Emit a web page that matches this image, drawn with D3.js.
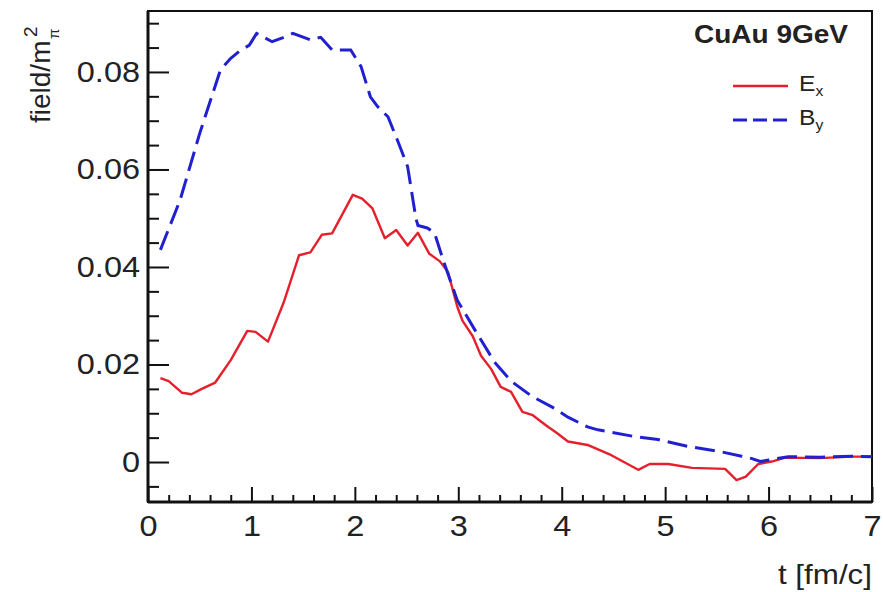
<!DOCTYPE html>
<html>
<head>
<meta charset="utf-8">
<script src="https://cdn.jsdelivr.net/npm/d3@7"></script>
<style>
  html, body { margin: 0; padding: 0; background: #fff; }
  svg { display: block; }
  text { font-family: "Liberation Sans", Arial, Helvetica, sans-serif; fill: #222; }
</style>
</head>
<body>
<svg id="chart" width="883" height="592"></svg>
<script>
// ---- data ----
const exT = [0.12,0.2,0.33,0.42,0.52,0.65,0.8,0.96,1.04,1.16,1.31,1.46,1.57,1.68,1.78,1.98,2.07,2.17,2.29,2.40,2.51,2.61,2.72,2.82,2.90,2.99,3.04,3.14,3.22,3.32,3.41,3.51,3.62,3.72,3.85,3.95,4.06,4.25,4.48,4.74,4.85,5.03,5.26,5.58,5.69,5.78,5.90,6.03,6.16,6.49,6.81,7.0];
const exV = [0.0172,0.0166,0.0142,0.0139,0.0150,0.0163,0.0209,0.0269,0.0267,0.0247,0.0326,0.0424,0.0430,0.0466,0.0469,0.0548,0.0540,0.0520,0.0459,0.0476,0.0444,0.0470,0.0427,0.0412,0.0390,0.0319,0.0290,0.0258,0.0218,0.0190,0.0154,0.0144,0.0103,0.0096,0.0075,0.0060,0.0042,0.0035,0.0014,-0.0016,-0.0004,-0.0004,-0.0012,-0.0014,-0.0037,-0.0030,-0.0004,0.0001,0.0009,0.0008,0.0011,0.0011];
const byT = [0.12,0.31,0.50,0.70,0.80,0.88,0.98,1.05,1.20,1.30,1.40,1.57,1.67,1.78,1.96,2.06,2.15,2.22,2.32,2.41,2.51,2.59,2.61,2.70,2.77,2.86,2.99,3.16,3.35,3.51,3.71,3.93,4.06,4.25,4.35,4.71,4.93,5.22,5.52,5.74,5.84,5.92,6.00,6.19,6.50,6.80,7.0];
const byV = [0.0435,0.0537,0.0674,0.0804,0.0828,0.0842,0.0855,0.0879,0.0862,0.0870,0.0879,0.0866,0.0871,0.0845,0.0845,0.0811,0.0749,0.0729,0.0708,0.0661,0.0606,0.0500,0.0485,0.0480,0.0470,0.0410,0.0332,0.0271,0.0205,0.0166,0.0135,0.0110,0.0092,0.0072,0.0066,0.0052,0.0046,0.0032,0.0022,0.0012,0.0007,0.0001,0.0004,0.0011,0.0010,0.0012,0.0011];
const xMajor = [0,1,2,3,4,5,6,7];
const yMajor = [0,0.02,0.04,0.06,0.08];
const yTickLabels = ["0","0.02","0.04","0.06","0.08"];
const xDomain = [0, 7];
const yDomain = [-0.0082, 0.0925];
const seriesNames = ["E", "B"];
const seriesSubs = ["x", "y"];
const title = "CuAu 9GeV";

// ---- layout ----
const W = 883, H = 592;
const m = { left: 148, top: 11, right: 11, bottom: 90 };
const pw = W - m.left - m.right, ph = H - m.top - m.bottom;
const svg = d3.select("#chart");
const g = svg.append("g").attr("transform", `translate(${m.left},${m.top})`);
const SX = 1.12; // horizontal stretch of the reference's text

const x = d3.scaleLinear().domain(xDomain).range([0, pw]);
const y = d3.scaleLinear().domain(yDomain).range([ph, 0]);

const xMinor = d3.range(0, 7.0001, 0.2).filter(v => Math.abs(v - Math.round(v)) > 1e-6);
const yMinor = d3.range(-0.005, 0.0921, 0.005).filter(v => Math.abs(v / 0.02 - Math.round(v / 0.02)) > 1e-6);

// minor ticks
g.append("g").attr("transform", `translate(0,${ph})`)
  .call(d3.axisBottom(x).tickValues(xMinor).tickSize(-7).tickFormat(""))
  .call(s => s.select(".domain").remove())
  .selectAll("line").attr("stroke", "#111").attr("stroke-width", 2);
g.append("g")
  .call(d3.axisLeft(y).tickValues(yMinor).tickSize(-11).tickFormat(""))
  .call(s => s.select(".domain").remove())
  .selectAll("line").attr("stroke", "#111").attr("stroke-width", 2);

// major ticks + labels
const xa = g.append("g").attr("transform", `translate(0,${ph})`)
  .call(d3.axisBottom(x).tickValues(xMajor).tickSize(-15).tickPadding(13).tickFormat(d3.format("d")));
xa.select(".domain").remove();
xa.selectAll("line").attr("stroke", "#111").attr("stroke-width", 2);
xa.selectAll("text").attr("font-size", 29).attr("fill", "#1a1a1a")
  .style("font-family", '"Liberation Sans", Arial, sans-serif')
  .attr("transform", `scale(${SX},1)`);

const ya = g.append("g")
  .call(d3.axisLeft(y).tickValues(yMajor).tickSize(-21).tickPadding(9).tickFormat((d, i) => yTickLabels[i]));
ya.select(".domain").remove();
ya.selectAll("line").attr("stroke", "#111").attr("stroke-width", 2);
ya.selectAll("text").attr("font-size", 29).attr("fill", "#1a1a1a")
  .style("font-family", '"Liberation Sans", Arial, sans-serif')
  .attr("x", 0).attr("transform", `translate(-8,0) scale(${SX},1)`);

// frame
g.append("rect").attr("x", 0).attr("y", 0).attr("width", pw).attr("height", ph)
  .attr("fill", "none").attr("stroke", "#111").attr("stroke-width", 2);
g.append("line").attr("x1", 0).attr("x2", 0).attr("y1", 0).attr("y2", ph).attr("stroke", "#111").attr("stroke-width", 3);
g.append("line").attr("x1", 0).attr("x2", pw).attr("y1", ph).attr("y2", ph).attr("stroke", "#111").attr("stroke-width", 3);

// curves
const line = d3.line().x(d => x(d[0])).y(d => y(d[1]));
const exData = exT.map((t, i) => [t, exV[i]]);
const byData = byT.map((t, i) => [t, byV[i]]);
const redC = "#e5202c", blueC = "#2020d0";
g.append("path").datum(exData).attr("d", line).attr("fill", "none")
  .attr("stroke", redC).attr("stroke-width", 2.4).attr("stroke-linejoin", "round");
g.append("path").datum(byData).attr("d", line).attr("fill", "none")
  .attr("stroke", blueC).attr("stroke-width", 3).attr("stroke-dasharray", "20,8");

// title / legend
svg.append("text").attr("transform", `translate(848,43) scale(${SX},1)`).attr("text-anchor", "end")
  .attr("font-size", 25).attr("font-weight", "bold").attr("fill", "#1a1a1a").text(title);

const legY = [86, 120];
const legC = [redC, blueC];
const legDash = [null, "14,6"];
legY.forEach((ly, i) => {
  svg.append("line").attr("x1", 733).attr("x2", 788).attr("y1", ly).attr("y2", ly)
    .attr("stroke", legC[i]).attr("stroke-width", i ? 3 : 2.5).attr("stroke-dasharray", legDash[i]);
  const t = svg.append("text").attr("transform", `translate(799,${ly + 5}) scale(${SX},1)`)
    .attr("font-size", 22).attr("fill", "#1a1a1a");
  t.append("tspan").text(seriesNames[i]);
  t.append("tspan").attr("font-size", 14).attr("dy", 5).text(seriesSubs[i]);
});

// axis titles
svg.append("text").attr("transform", `translate(872,584) scale(${SX},1)`).attr("text-anchor", "end")
  .attr("font-size", 28).attr("fill", "#1a1a1a").text("t [fm/c]");

const yt = svg.append("g").attr("transform", "translate(50,123) rotate(-90)");
yt.append("text").attr("x", 0).attr("y", 0).attr("font-size", 28).attr("fill", "#1a1a1a").text("field/m");
yt.append("text").attr("x", 86).attr("y", -13).attr("font-size", 19).attr("fill", "#1a1a1a").text("2");
yt.append("text").attr("x", 84).attr("y", 9).attr("font-size", 15).attr("fill", "#1a1a1a").text("π");
</script>
</body>
</html>
